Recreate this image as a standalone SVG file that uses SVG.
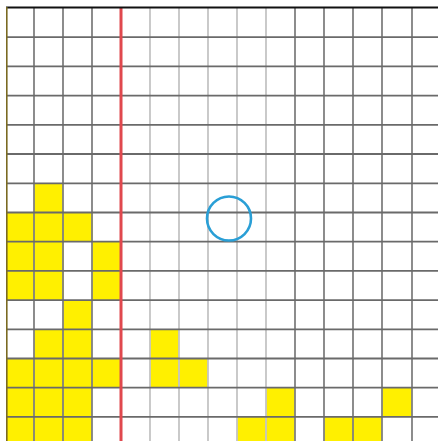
<svg xmlns="http://www.w3.org/2000/svg" width="438" height="441" viewBox="0 0 438 441">
  <style>
    .cell { fill: #fff000; }
    .h { stroke: #6a6a6a; stroke-width: 1.8; }
    .v { stroke: #808080; stroke-width: 1.8; }
    .vl { stroke: #c4c4c4; stroke-width: 1.8; }
  </style>
  <rect x="0" y="0" width="438" height="441" fill="#ffffff"/>
  <g id="cells">
    <rect class="cell" x="34" y="183.3" width="29" height="29.2"/>
    <rect class="cell" x="6" y="212.5" width="87" height="29.2"/>
    <rect class="cell" x="6" y="241.7" width="58" height="58.4"/>
    <rect class="cell" x="92" y="241.7" width="29" height="58.4"/>
    <rect class="cell" x="63" y="300.1" width="29" height="29.2"/>
    <rect class="cell" x="34" y="329.3" width="58" height="29.2"/>
    <rect class="cell" x="150" y="329.3" width="29" height="29.2"/>
    <rect class="cell" x="6" y="358.5" width="115" height="29.2"/>
    <rect class="cell" x="150" y="358.5" width="58" height="29.2"/>
    <rect class="cell" x="6" y="387.7" width="86" height="53.3"/>
    <rect class="cell" x="266" y="387.7" width="29" height="53.3"/>
    <rect class="cell" x="237" y="416.9" width="29" height="24.1"/>
    <rect class="cell" x="324" y="416.9" width="58" height="24.1"/>
    <rect class="cell" x="382" y="387.7" width="30" height="29.2"/>
  </g>
  <g id="grid">
    <line class="v" x1="34" y1="7" x2="34" y2="441"/>
    <line class="v" x1="63" y1="7" x2="63" y2="441"/>
    <line class="v" x1="92" y1="7" x2="92" y2="441"/>
    <line class="vl" x1="150" y1="7" x2="150" y2="441"/>
    <line class="vl" x1="179" y1="7" x2="179" y2="441"/>
    <line class="vl" x1="208" y1="7" x2="208" y2="441"/>
    <line class="vl" x1="237" y1="7" x2="237" y2="441"/>
    <line class="vl" x1="266" y1="7" x2="266" y2="441"/>
    <line class="v" x1="295" y1="7" x2="295" y2="441"/>
    <line class="v" x1="324" y1="7" x2="324" y2="441"/>
    <line class="v" x1="353" y1="7" x2="353" y2="441"/>
    <line class="v" x1="382" y1="7" x2="382" y2="441"/>
    <line class="v" x1="412" y1="7" x2="412" y2="441"/>
    <line class="h" x1="6" y1="37.2" x2="438" y2="37.2"/>
    <line class="h" x1="6" y1="66.4" x2="438" y2="66.4"/>
    <line class="h" x1="6" y1="95.6" x2="438" y2="95.6"/>
    <line class="h" x1="6" y1="124.8" x2="438" y2="124.8"/>
    <line class="h" x1="6" y1="154" x2="438" y2="154"/>
    <line class="h" x1="6" y1="183.3" x2="438" y2="183.3"/>
    <line class="h" x1="6" y1="212.5" x2="438" y2="212.5"/>
    <line class="h" x1="6" y1="241.7" x2="438" y2="241.7"/>
    <line class="h" x1="6" y1="270.9" x2="438" y2="270.9"/>
    <line class="h" x1="6" y1="300.1" x2="438" y2="300.1"/>
    <line class="h" x1="6" y1="329.3" x2="438" y2="329.3"/>
    <line class="h" x1="6" y1="358.5" x2="438" y2="358.5"/>
    <line class="h" x1="6" y1="387.7" x2="438" y2="387.7"/>
    <line class="h" x1="6" y1="416.9" x2="438" y2="416.9"/>
    <line x1="121" y1="7" x2="121" y2="441" stroke="#e0484e" stroke-width="3"/>
    <line x1="6" y1="7.5" x2="438" y2="7.5" stroke="#111111" stroke-width="2"/>
    <line x1="6.8" y1="7" x2="6.8" y2="441" stroke="#7a6a22" stroke-width="1.6"/>
  </g>
  <g id="circle">
    <circle cx="229" cy="218.5" r="22" fill="none" stroke="#2a9fd6" stroke-width="2.6"/>
  </g>
</svg>
